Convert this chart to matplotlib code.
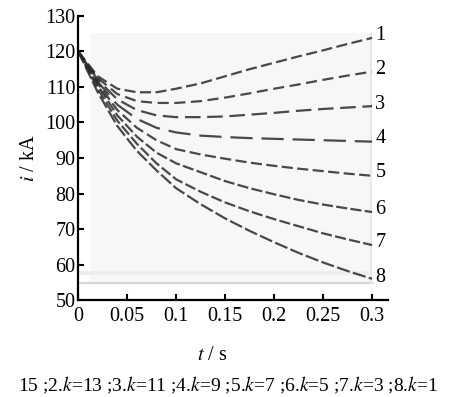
import matplotlib
matplotlib.use("Agg")
import matplotlib.pyplot as plt
import numpy as np

plt.rcParams['font.family'] = ['Liberation Serif', 'DejaVu Serif']
plt.rcParams['mathtext.fontset'] = 'stix'

# time points (s)
t = [0, 0.02, 0.04, 0.06, 0.08, 0.1, 0.125, 0.15, 0.175, 0.2, 0.225, 0.25, 0.275, 0.3]

# current i (kA) for curves 1..8 (k = 15, 13, 11, 9, 7, 5, 3, 1)
i1 = [120, 113.0, 109.5, 108.5, 108.5, 109.5, 111.0, 113.0, 115.0, 116.8, 118.6, 120.3, 122.1, 123.8]
i2 = [120, 112.5, 108.0, 106.0, 105.5, 105.5, 106.0, 107.0, 108.2, 109.5, 110.7, 112.0, 113.2, 114.3]
i3 = [120, 112.0, 106.5, 103.5, 102.0, 101.5, 101.5, 101.7, 102.2, 102.7, 103.3, 103.8, 104.2, 104.6]
i4 = [120, 111.5, 105.0, 101.0, 98.5, 97.2, 96.3, 95.9, 95.6, 95.4, 95.2, 95.0, 94.8, 94.6]
i5 = [120, 111.0, 103.5, 98.5, 95.0, 92.5, 91.0, 89.8, 88.7, 87.8, 87.0, 86.3, 85.6, 85.0]
i6 = [120, 110.5, 102.0, 96.0, 91.5, 88.5, 86.0, 83.5, 81.5, 79.8, 78.2, 76.9, 75.8, 74.8]
i7 = [120, 109.5, 100.5, 94.0, 88.5, 84.0, 80.5, 77.5, 75.0, 72.8, 70.8, 68.8, 67.1, 65.5]
i8 = [120, 108.5, 99.0, 92.0, 86.5, 81.5, 77.0, 73.0, 69.5, 66.3, 63.3, 60.6, 58.2, 56.0]

curves = [i1, i2, i3, i4, i5, i6, i7, i8]
labels = ['1', '2', '3', '4', '5', '6', '7', '8']
label_y = [124.6, 114.8, 105.0, 95.4, 85.8, 75.6, 66.3, 56.5]
# caption as visible in the (cropped) source figure
caption = r"15 ;2.$k$=13 ;3.$k$=11 ;4.$k$=9 ;5.$k$=7 ;6.$k$=5 ;7.$k$=3 ;8.$k$=1"

fs = 14.5

fig = plt.figure(figsize=(4.57, 3.97), dpi=100)
ax = fig.add_axes([0.171, 0.244, 0.678, 0.716])

# faint scan background
ax.axvspan(0.012, 0.3, ymin=(54.8 - 50) / 80, ymax=(125.2 - 50) / 80, color='#f7f7f7', lw=0, zorder=0)
ax.axhspan(57.0, 58.3, xmin=0, xmax=0.3 / 0.3163, color='#eeeeee', lw=0, zorder=0)
ax.axhline(54.8, xmin=0, xmax=0.3 / 0.3163, color='#d6d6d6', lw=1.6, zorder=0)
ax.axvline(0.299, ymin=(54.8 - 50) / 80, ymax=(125.2 - 50) / 80, color='#e8e8e8', lw=1.5, zorder=0)

dash_styles = [(0, (5, 2)), (0, (5, 2.5)), (0, (7, 3)), (0, (10, 4)),
               (0, (5, 2)), (0, (5, 1.5)), (0, (5, 1.5)), (0, (6, 1.5))]
for y, ls in zip(curves, dash_styles):
    ax.plot(t, y, color='#2a2a2a', lw=1.6, linestyle=ls, alpha=0.85)

for lab, y in zip(labels, label_y):
    ax.text(0.3035, y, lab, fontsize=fs, ha='left', va='center')

ax.set_xlim(0, 0.3163)
ax.set_ylim(50, 130)
ax.set_xticks([0, 0.05, 0.1, 0.15, 0.2, 0.25, 0.3])
ax.set_xticklabels(['0', '0.05', '0.1', '0.15', '0.2', '0.25', '0.3'])
ax.set_yticks(range(50, 131, 10))
ax.tick_params(direction='in', length=4, width=1.5, labelsize=fs)
ax.tick_params(axis='x', pad=5)
ax.tick_params(axis='y', pad=2)
for s in ['top', 'right']:
    ax.spines[s].set_visible(False)
for s in ['left', 'bottom']:
    ax.spines[s].set_linewidth(1.6)
ax.set_facecolor('white')

fig.text(30 / 457, 1 - 158 / 397, r'$i$ / kA', rotation=90, fontsize=fs, ha='center', va='center')
fig.text(212 / 457, 1 - 355 / 397, r'$t$ / s', fontsize=fs, ha='center', va='center')
fig.text(228 / 457, 1 - 385 / 397, caption, fontsize=14, ha='center', va='center')

fig.savefig('out.png', dpi=100)
